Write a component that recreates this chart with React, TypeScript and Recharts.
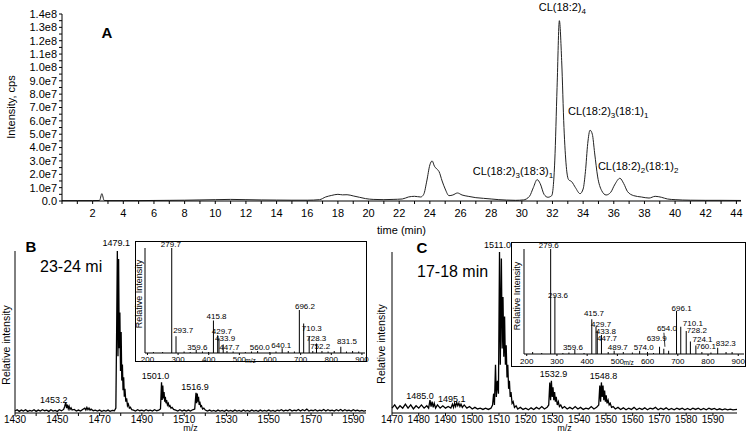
import React from 'react';
import { ComposedChart, Line, Bar, Scatter, XAxis, YAxis } from 'recharts';

const FONT = '"Liberation Sans", Arial, Helvetica, sans-serif';

// A: total ion chromatogram, time (min) vs intensity in units of 1e7 cps
const CHROM: [number, number][] = [
  [0, 0.03], [1, 0.03], [2, 0.03], [2.45, 0.04], [2.6, 0.55], [2.75, 0.04], [3, 0.03], [4, 0.03],
  [5, 0.03], [6, 0.04], [7, 0.05], [8, 0.06], [9, 0.08], [10, 0.1], [11, 0.12], [12, 0.1],
  [13, 0.08], [14, 0.07], [15, 0.06], [16, 0.06], [16.8, 0.1], [17.2, 0.3], [17.6, 0.42], [18, 0.5],
  [18.3, 0.46], [18.6, 0.47], [19, 0.38], [19.4, 0.28], [19.8, 0.18], [20.3, 0.12], [21, 0.1],
  [21.6, 0.12], [22.2, 0.15], [22.6, 0.3], [23, 0.35], [23.4, 0.3], [23.6, 0.5], [23.8, 1.5],
  [24.0, 2.7], [24.15, 3.0], [24.3, 2.6], [24.45, 2.4], [24.6, 2.2], [24.8, 1.5], [25.0, 0.9],
  [25.25, 0.4], [25.5, 0.45], [25.8, 0.6], [26.1, 0.45], [26.5, 0.35], [27, 0.25], [27.5, 0.2],
  [28, 0.15], [28.5, 0.1], [29, 0.07], [29.6, 0.05], [30.1, 0.08], [30.5, 0.35], [30.75, 1.0],
  [31.0, 1.6], [31.2, 1.3], [31.45, 0.5], [31.7, 0.28], [31.95, 0.4], [32.15, 3.0], [32.3, 8.5],
  [32.45, 13.5], [32.6, 10.5], [32.75, 5.5], [32.9, 2.6], [33.05, 1.6], [33.25, 1.45], [33.5, 1.0],
  [33.8, 0.55], [34.0, 0.9], [34.15, 2.2], [34.3, 4.3], [34.45, 5.3], [34.6, 5.0], [34.75, 3.6],
  [34.95, 1.8], [35.2, 0.8], [35.5, 0.45], [35.8, 0.65], [36.05, 1.2], [36.4, 1.7], [36.65, 1.3],
  [36.9, 0.7], [37.3, 0.4], [37.8, 0.3], [38.3, 0.22], [38.7, 0.35], [39.1, 0.28], [39.5, 0.15],
  [40, 0.1], [41, 0.06], [42, 0.05], [43, 0.05], [44.3, 0.04],
];

// peak annotations: [time, normal, sub, normal, sub]
const CHROM_PEAKS: [number, string[]][] = [
  [32.45, ['CL(18:2)', '4']],
  [34.45, ['CL(18:2)', '3', '(18:1)', '1']],
  [31.0, ['CL(18:2)', '3', '(18:3)', '1']],
  [36.4, ['CL(18:2)', '2', '(18:1)', '2']],
];

const TIME_TICKS = [0, 1, 2, 3, 4, 5, 6, 7, 8, 9, 10, 11, 12, 13, 14, 15, 16, 17, 18, 19, 20, 21, 22,
  23, 24, 25, 26, 27, 28, 29, 30, 31, 32, 33, 34, 35, 36, 37, 38, 39, 40, 41, 42, 43, 44];
const INT_TICKS = [0, 0.5, 1, 1.5, 2, 2.5, 3, 3.5, 4, 4.5, 5, 5.5, 6, 6.5, 7, 7.5, 8, 8.5, 9, 9.5,
  10, 10.5, 11, 11.5, 12, 12.5, 13, 13.5, 14];

// B: MS spectrum 23-24 min (relative intensity)
const SPEC_B: [number, number][] = [
  [1430, .012], [1431, .02], [1432, .01], [1433, .018], [1434, .012], [1435, .02], [1436, .01], [1437, .016],
  [1438, .012], [1439, .02], [1440, .01], [1441, .018], [1442, .012], [1443, .02], [1444, .014], [1445, .018],
  [1446, .01], [1447, .02], [1448, .012], [1449, .016], [1450, .01], [1451, .02], [1452, .014], [1453, .022],
  [1453.5, .04], [1454, .066], [1454.4, .03], [1454.8, .052], [1455.2, .026], [1455.6, .042], [1456, .022],
  [1456.5, .032], [1457, .018], [1458, .022], [1459, .012], [1460, .018], [1461, .012], [1462, .022],
  [1463, .03], [1463.5, .018], [1464, .034], [1464.5, .02], [1465, .03], [1465.5, .018], [1466, .024],
  [1467, .014], [1468, .018], [1469, .012], [1470, .018], [1471, .01], [1472, .016], [1473, .012],
  [1474, .018], [1475, .01], [1476, .016], [1477, .014], [1477.7, .03], [1478.1, .55], [1478.4, 1.0],
  [1478.7, .35], [1479, .95], [1479.3, .4], [1479.6, .62], [1479.9, .26], [1480.2, .5], [1480.5, .2],
  [1480.8, .3], [1481.1, .14], [1481.4, .22], [1481.7, .1], [1482, .15], [1482.4, .07], [1482.8, .09],
  [1483.2, .045], [1483.6, .055], [1484.1, .03], [1484.6, .035], [1485.2, .02], [1486, .018], [1487, .012],
  [1488, .02], [1489, .014], [1490, .018], [1491, .012], [1492, .02], [1493, .014], [1494, .018],
  [1495, .012], [1496, .02], [1497, .014], [1498, .018], [1498.8, .025], [1499.3, .19], [1499.6, .08],
  [1499.9, .17], [1500.2, .09], [1500.5, .13], [1500.8, .07], [1501.1, .1], [1501.4, .06], [1501.7, .08],
  [1502.1, .05], [1502.5, .06], [1502.9, .04], [1503.3, .045], [1503.8, .03], [1504.3, .035], [1505, .022],
  [1506, .018], [1507, .012], [1508, .02], [1509, .012], [1510, .018], [1511, .012], [1512, .018],
  [1513, .012], [1514, .02], [1515, .024], [1515.6, .125], [1515.9, .06], [1516.2, .12], [1516.5, .07],
  [1516.8, .1], [1517.1, .05], [1517.4, .07], [1517.8, .04], [1518.2, .045], [1518.7, .025], [1519.3, .03],
  [1520, .018], [1521, .012], [1522, .018], [1523, .012], [1524, .016], [1525, .01], [1526, .018],
  [1527, .012], [1528, .016], [1529, .01], [1530, .018], [1531, .012], [1532, .016], [1533, .01],
  [1534, .018], [1535, .012], [1536, .016], [1537, .01], [1538, .018], [1539, .012], [1540, .016],
  [1541, .01], [1542, .018], [1543, .012], [1544, .016], [1545, .01], [1546, .018], [1547, .012],
  [1548, .016], [1549, .012], [1550, .018], [1551, .012], [1552, .016], [1553, .01], [1554, .018],
  [1555, .014], [1556, .02], [1557, .012], [1558, .018], [1559, .014], [1560, .022], [1561, .012],
  [1562, .018], [1563, .014], [1564, .022], [1565, .012], [1566, .02], [1567, .014], [1568, .024],
  [1569, .012], [1570, .018], [1571, .014], [1572, .02], [1573, .012], [1574, .018], [1575, .014],
  [1576, .022], [1577, .012], [1578, .02], [1579, .014], [1580, .018], [1581, .012], [1582, .02],
  [1583, .014], [1584, .022], [1585, .012], [1586, .02], [1587, .014], [1588, .018], [1589, .012],
  [1590, .02], [1591, .014], [1592, .018], [1593, .012], [1594, .016], [1595, .012], [1596, .014],
];
const PEAKS_B: [string, number][] = [['1453.2', 1454], ['1479.1', 1478.4], ['1501.0', 1499.3], ['1516.9', 1515.6]];
const TICKS_B = [1430, 1440, 1450, 1460, 1470, 1480, 1490, 1500, 1510, 1520, 1530, 1540, 1550, 1560, 1570, 1580, 1590];
const LABELED_B = [1430, 1450, 1470, 1490, 1510, 1530, 1550, 1570, 1590];

// C: MS spectrum 17-18 min
const SPEC_C: [number, number][] = [
  [1470, .03], [1471, .05], [1472, .025], [1473, .045], [1474, .03], [1475, .055], [1476, .03], [1477, .05],
  [1478, .025], [1479, .045], [1480, .03], [1481, .05], [1482, .03], [1483, .045], [1483.7, .03], [1484.2, .08],
  [1484.6, .04], [1485, .07], [1485.4, .035], [1485.8, .06], [1486.3, .03], [1487, .05], [1488, .03],
  [1489, .045], [1490, .03], [1491, .04], [1492, .03], [1492.6, .055], [1493, .035], [1493.4, .06],
  [1493.8, .04], [1494.2, .065], [1494.6, .045], [1495, .06], [1495.4, .04], [1495.8, .055], [1496.3, .035],
  [1497, .05], [1498, .03], [1499, .04], [1500, .025], [1501, .035], [1502, .025], [1503, .03], [1504, .022],
  [1505, .03], [1506, .022], [1507, .03], [1507.6, .05], [1508, .12], [1508.3, .05], [1508.7, .3], [1509, .1],
  [1509.4, .2], [1509.8, .12], [1510.2, 1.0], [1510.5, .3], [1510.9, .96], [1511.2, .4], [1511.5, .72],
  [1511.8, .35], [1512.1, .6], [1512.4, .3], [1512.7, .42], [1513, .22], [1513.3, .3], [1513.6, .15],
  [1513.9, .2], [1514.2, .1], [1514.5, .13], [1514.9, .06], [1515.3, .07], [1515.8, .035], [1516.4, .045],
  [1517, .025], [1518, .035], [1519, .022], [1520, .03], [1521, .02], [1522, .032], [1523, .022], [1524, .035],
  [1525, .025], [1526, .04], [1527, .025], [1528, .035], [1528.6, .05], [1529, .19], [1529.3, .08],
  [1529.6, .2], [1529.9, .1], [1530.2, .16], [1530.5, .08], [1530.8, .13], [1531.1, .07], [1531.4, .1],
  [1531.8, .05], [1532.2, .07], [1532.6, .04], [1533.1, .05], [1533.7, .03], [1534.5, .04], [1535.5, .025],
  [1536.5, .035], [1537.5, .025], [1538.5, .04], [1539.5, .025], [1540.5, .035], [1541.5, .022], [1542.5, .03],
  [1543.5, .025], [1544.5, .04], [1545.5, .025], [1546.5, .035], [1547.3, .05], [1547.7, .17], [1548, .07],
  [1548.3, .19], [1548.6, .1], [1548.9, .17], [1549.2, .08], [1549.5, .14], [1549.8, .07], [1550.1, .11],
  [1550.4, .06], [1550.8, .08], [1551.2, .05], [1551.6, .06], [1552.1, .035], [1552.7, .04], [1553.5, .025],
  [1554.5, .035], [1555.5, .022], [1556.5, .032], [1557.5, .02], [1558.5, .03], [1559.5, .022], [1560.5, .035],
  [1561.5, .02], [1562.5, .03], [1563.5, .022], [1564.5, .032], [1565.5, .02], [1566.5, .03], [1567.5, .025],
  [1568.5, .035], [1569.5, .02], [1570.5, .03], [1571.5, .022], [1572.5, .032], [1573.5, .02], [1574.5, .028],
  [1575.5, .02], [1576.5, .03], [1577.5, .022], [1578.5, .03], [1579.5, .02], [1580.5, .028], [1581.5, .02],
  [1582.5, .03], [1583.5, .022], [1584.5, .03], [1585.5, .02], [1586.5, .028], [1587.5, .02], [1588.5, .03],
  [1589.5, .022], [1590.5, .028], [1591.5, .02], [1592.5, .026], [1593.5, .02], [1594.5, .025], [1595.5, .02],
  [1596.5, .024], [1597.5, .02], [1599, .022],
];
const PEAKS_C: [string, number][] = [['1485.0', 1484.2], ['1495.1', 1494.2], ['1511.0', 1510.2], ['1532.9', 1529.6], ['1548.8', 1548.3]];
const TICKS_C = [1470, 1480, 1490, 1500, 1510, 1520, 1530, 1540, 1550, 1560, 1570, 1580, 1590];

// insets: MS/MS fragments [m/z, relative intensity, label]
const MSMS_B: [number, number, string?][] = [
  [220, .01], [250, .01], [279.7, 1.0, '279.7'], [293.7, .16, '293.7'], [320, .015], [340, .01],
  [359.6, .03, '359.6'], [380, .015], [400, .01], [415.8, .31, '415.8'], [429.7, .17, '429.7'],
  [433.9, .14, '433.9'], [447.7, .08, '447.7'], [460, .02], [480, .015], [520, .01], [540, .015],
  [560.0, .02, '560.0'], [600, .01], [620, .015], [640.1, .045, '640.1'], [660, .02], [680, .015],
  [696.2, .41, '696.2'], [710.3, .28, '710.3'], [728.3, .16, '728.3'], [740, .02], [752.2, .09, '752.2'],
  [770, .02], [790, .015], [810, .02], [831.5, .06, '831.5'], [850, .015], [870, .02], [890, .015],
];
const MSMS_C: [number, number, string?][] = [
  [220, .02], [250, .01], [279.6, 1.0, '279.6'], [293.6, .55, '293.6'], [320, .01], [340, .015],
  [359.6, .04, '359.6'], [390, .01], [415.7, .33, '415.7'], [429.7, .26, '429.7'], [433.8, .22, '433.8'],
  [447.7, .18, '447.7'], [470, .02], [489.7, .03, '489.7'], [520, .02], [550, .015], [574.0, .03, '574.0'],
  [600, .02], [620, .01], [639.9, .07, '639.9'], [654.0, .05, '654.0'], [670, .03], [696.1, .41, '696.1'],
  [710.1, .26, '710.1'], [728.2, .22, '728.2'], [742, .12, '724.1'], [760.1, .08, '760.1'], [780, .02],
  [810, .015], [832.3, .06, '832.3'], [860, .02], [880, .02],
];
const INSET_TICKS = [200, 300, 400, 500, 600, 700, 800, 900];

// label placement (px offsets from the annotated apex)
const CHROM_LABEL_POS: Record<string, { dx: number; dy: number; anchor: string }> = {
  'CL(18:2)4': { dx: 3, dy: -10, anchor: 'middle' },
  'CL(18:2)3(18:1)1': { dx: -22, dy: -15, anchor: 'start' },
  'CL(18:2)3(18:3)1': { dx: 16, dy: -5, anchor: 'end' },
  'CL(18:2)2(18:1)2': { dx: -22, dy: -8, anchor: 'start' },
};
const SPEC_LABEL_POS: Record<string, [number, number]> = {
  '1453.2': [-12, -2], '1479.1': [-1, -8], '1501.0': [-6, -6], '1516.9': [-1, -6],
  '1485.0': [-10, -4], '1495.1': [-5, -4], '1511.0': [-2, -7], '1532.9': [2, -7], '1548.8': [2, -7],
};
const MSMS_B_POS: Record<string, [number, number]> = {
  '279.7': [-1, -4], '293.7': [7, -6], '359.6': [1, -3], '415.8': [3, -4.5], '429.7': [4, -3.5],
  '433.9': [6, 0], '447.7': [6, 2.5], '560.0': [2, -4], '640.1': [-1, -3], '696.2': [5.5, -4],
  '710.3': [8, 5], '728.3': [7, 1.5], '752.2': [3.5, 2.5], '831.5': [6, -5.5],
};
const MSMS_C_POS: Record<string, [number, number]> = {
  '279.6': [-2, -4], '293.6': [3, -1], '359.6': [-2, -3], '415.7': [2, -6], '429.7': [5, -3],
  '433.8': [8.5, 0], '447.7': [5.5, 3], '489.7': [3.5, -4], '574.0': [4, -4], '639.9': [-3, -8],
  '654.0': [3, -21], '696.1': [5, -2.5], '710.1': [12, -3.5], '728.2': [10.5, -1], '724.1': [12, -2.5],
  '760.1': [10, 0.5], '832.3': [8, -5],
};

const chromData = CHROM.map(([t, i]) => ({ t, i }));
const chromLabels = CHROM_PEAKS.map(([t, parts]) => ({ t, i: chromData.find((d) => d.t === t)!.i, parts }));
const specB = SPEC_B.map(([mz, v]) => ({ mz, v }));
const specC = SPEC_C.map(([mz, v]) => ({ mz, v }));
const labelsFor = (spec: { mz: number; v: number }[], peaks: [string, number][]) =>
  peaks.map(([label, mz]) => ({ mz, v: spec.find((d) => d.mz === mz)!.v, label }));
const specBLabels = labelsFor(specB, PEAKS_B);
const specCLabels = labelsFor(specC, PEAKS_C);
const msmsB = MSMS_B.map(([mz, h, label]) => ({ mz, h, label }));
const msmsC = MSMS_C.map(([mz, h, label]) => ({ mz, h, label }));

const AX = { stroke: '#000' };
const tickFont = (size: number) => ({ fontSize: size, fill: '#000', fontFamily: FONT });

const timeFmt = (v: number) => (v > 0 && v % 2 === 0 ? String(v) : '');
const intFmt = (v: number) => {
  if (v % 1 !== 0) return '';
  if (v === 0) return '0.0';
  return (v * 1e7).toExponential(1).replace('+', '');
};

const renderChromLabel = (p: any) => {
  const { cx, cy, payload } = p;
  const parts: string[] = payload.parts;
  const pos = CHROM_LABEL_POS[parts.join('')];
  return (
    <text x={cx + pos.dx} y={cy + pos.dy} textAnchor={pos.anchor} fontSize={11} fontFamily={FONT} fill="#000">
      {parts.map((s, k) =>
        k % 2 === 1 ? (
          <tspan key={k} fontSize={8} dy={3}>{s}</tspan>
        ) : (
          <tspan key={k} dy={k > 0 ? -3 : 0}>{s}</tspan>
        )
      )}
    </text>
  );
};

const peakText = (pos: Record<string, [number, number]>, size: number) => (p: any) => {
  const { cx, cy, payload } = p;
  const [dx, dy] = pos[payload.label] || [0, -4];
  return (
    <g>
      {payload.label === '654.0' && (
        <line x1={cx + dx - 3} y1={cy + dy + 5} x2={cx + 1} y2={cy - 2} stroke="#000" strokeWidth={0.8} />
      )}
      <text x={cx + dx} y={cy + dy} dy="0.35em" textAnchor="middle" fontSize={size} fontFamily={FONT} fill="#000">
        {payload.label}
      </text>
    </g>
  );
};

const InsetTick = (props: any) => {
  const { x, y, payload } = props;
  return (
    <g>
      <text x={x} y={y} dy="0.71em" textAnchor="middle" fontSize={8} fontFamily={FONT} fill="#000">
        {payload.value}
      </text>
      {payload.value === 500 && (
        <text x={x + 6} y={y} dy="1.05em" fontSize={6.5} fontFamily={FONT} fill="#000">m/z</text>
      )}
    </g>
  );
};

const abs = (left: number, top: number): React.CSSProperties => ({ position: 'absolute', left, top });

const App = () => (
  <div style={{ position: 'absolute', left: 0, top: 0, width: 748, height: 434, background: '#fff', overflow: 'hidden' }}>
    {/* A */}
    <div style={abs(0, 0)}>
      <ComposedChart width={748} height={240} data={chromData} margin={{ top: 14, right: 7, bottom: 0, left: 0 }}>
        <XAxis dataKey="t" type="number" domain={[0, 44.3]} ticks={TIME_TICKS} interval={0}
          tickFormatter={timeFmt} height={39} tickSize={3} tickMargin={5} tick={tickFont(11)} axisLine={AX} tickLine={AX}
          label={{ value: 'time (min)', position: 'insideBottom', offset: 6, fontSize: 11, fill: '#000', fontFamily: FONT }} />
        <YAxis type="number" domain={[0, 14]} ticks={INT_TICKS} interval={0} tickFormatter={intFmt}
          width={62} tickSize={3} tickMargin={2} tick={tickFont(11)} axisLine={AX} tickLine={AX} />
        <Line dataKey="i" type="monotone" stroke="#222" strokeWidth={1} dot={false} isAnimationActive={false} />
        <Scatter data={chromLabels} dataKey="i" shape={renderChromLabel} isAnimationActive={false} />
      </ComposedChart>
    </div>

    {/* B */}
    <div style={abs(0, 232)}>
      <ComposedChart width={370} height={202} data={specB} margin={{ top: 19, right: 4, bottom: 0, left: 0 }}>
        <XAxis dataKey="mz" type="number" domain={[1430, 1596]} ticks={TICKS_B} interval={0}
          tickFormatter={(v: number) => (LABELED_B.includes(v) ? String(v) : '')} height={21} tickSize={3} tickMargin={0}
          tick={tickFont(10)} axisLine={AX} tickLine={AX}
          label={{ value: 'm/z', position: 'insideBottom', offset: 3, fontSize: 9, fill: '#000', fontFamily: FONT }} />
        <YAxis type="number" domain={[0, 1]} ticks={[0, 0.5, 1]} width={15} tickSize={4} tick={false}
          axisLine={AX} tickLine={AX} />
        <Line dataKey="v" type="linear" stroke="#000" strokeWidth={1.3} dot={false} isAnimationActive={false} />
        <Scatter data={specBLabels} dataKey="v" shape={peakText(SPEC_LABEL_POS, 9)} isAnimationActive={false} />
      </ComposedChart>
    </div>

    {/* C */}
    <div style={abs(370, 232)}>
      <ComposedChart width={378} height={202} data={specC} margin={{ top: 20, right: 11, bottom: 0, left: 0 }}>
        <XAxis dataKey="mz" type="number" domain={[1470, 1599]} ticks={TICKS_C} interval={0}
          height={21} tickSize={3} tickMargin={0} tick={tickFont(10)} axisLine={AX} tickLine={AX}
          label={{ value: 'm/z', position: 'insideBottom', offset: 3, fontSize: 9, fill: '#000', fontFamily: FONT }} />
        <YAxis type="number" domain={[0, 1]} ticks={[0, 0.5, 1]} width={22} tickSize={4} tick={false}
          axisLine={AX} tickLine={AX} />
        <Line dataKey="v" type="linear" stroke="#000" strokeWidth={1.3} dot={false} isAnimationActive={false} />
        <Scatter data={specCLabels} dataKey="v" shape={peakText(SPEC_LABEL_POS, 9)} isAnimationActive={false} />
      </ComposedChart>
    </div>

    {/* inset B */}
    <div style={{ ...abs(135, 241), width: 232, height: 121, border: '1px solid #000', boxSizing: 'border-box', background: '#fff' }} />
    <div style={abs(135, 241)}>
      <ComposedChart width={240} height={130} data={msmsB} margin={{ top: 7, right: 10, bottom: 0, left: 0 }}>
        <XAxis dataKey="mz" type="number" domain={[192, 910]} ticks={INSET_TICKS} interval={0}
          height={18} tickSize={2} tickMargin={1} tick={<InsetTick />} axisLine={AX} tickLine={AX} />
        <YAxis type="number" domain={[0, 1]} ticks={[0, 0.5, 1]} width={10} tickSize={3} tick={false}
          axisLine={AX} tickLine={AX} />
        <Bar dataKey="h" barSize={1} fill="#000" isAnimationActive={false} />
        <Scatter data={msmsB.filter((d) => d.label)} dataKey="h" shape={peakText(MSMS_B_POS, 8)} isAnimationActive={false} />
      </ComposedChart>
    </div>

    {/* inset C */}
    <div style={{ ...abs(511, 242), width: 235, height: 125, border: '1px solid #000', boxSizing: 'border-box', background: '#fff' }} />
    <div style={abs(511, 242)}>
      <ComposedChart width={235} height={135} data={msmsC} margin={{ top: 7, right: 2, bottom: 0, left: 0 }}>
        <XAxis dataKey="mz" type="number" domain={[191, 919]} ticks={INSET_TICKS} interval={0}
          height={23} tickSize={2} tickMargin={2} tick={<InsetTick />} axisLine={AX} tickLine={AX} />
        <YAxis type="number" domain={[0, 1]} ticks={[0, 0.5, 1]} width={13} tickSize={3} tick={false}
          axisLine={AX} tickLine={AX} />
        <Bar dataKey="h" barSize={1} fill="#000" isAnimationActive={false} />
        <Scatter data={msmsC.filter((d) => d.label)} dataKey="h" shape={peakText(MSMS_C_POS, 8)} isAnimationActive={false} />
      </ComposedChart>
    </div>

    {/* free text */}
    <svg width={748} height={434} style={{ position: 'absolute', left: 0, top: 0, pointerEvents: 'none' }}
      fontFamily={FONT} fill="#000">
      <text x={107} y={38} textAnchor="middle" fontSize={15} fontWeight="bold">A</text>
      <text x={31} y={252} textAnchor="middle" fontSize={15} fontWeight="bold">B</text>
      <text x={422} y={253} textAnchor="middle" fontSize={15} fontWeight="bold">C</text>
      <text x={40} y={272} fontSize={16}>23-24 mi</text>
      <text x={417} y={277} fontSize={16}>17-18 min</text>
      <text x={11} y={107} dy="0.35em" textAnchor="middle" fontSize={11} transform="rotate(-90 11 107)">Intensity, cps</text>
      <text x={6} y={345} dy="0.35em" textAnchor="middle" fontSize={10.5} transform="rotate(-90 6 345)">Relative intensity</text>
      <text x={381} y={344} dy="0.35em" textAnchor="middle" fontSize={10.5} transform="rotate(-90 381 344)">Relative intensity</text>
      <text x={139} y={294} dy="0.35em" textAnchor="middle" fontSize={9} transform="rotate(-90 139 294)">Relative Intensity</text>
      <text x={517} y={296} dy="0.35em" textAnchor="middle" fontSize={9} transform="rotate(-90 517 296)">Relative Intensity</text>
    </svg>
  </div>
);

export default App;
